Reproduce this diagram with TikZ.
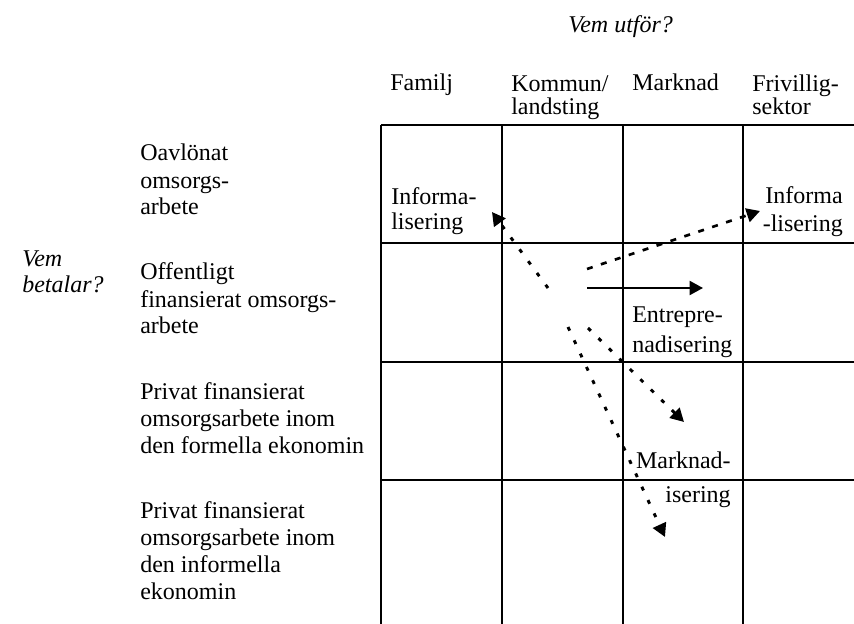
\documentclass[tikz,border=0pt]{standalone}
\usepackage{fontspec}
\setmainfont{Liberation Serif}
\usetikzlibrary{arrows.meta}
\begin{document}
\begin{tikzpicture}[x=0.75pt,y=-0.75pt,
  % multi-line nodes: the base anchor is the baseline of the LAST line
  lbl/.style={anchor=base west,inner sep=0pt,align=left,font=\fontsize{18}{#1}\selectfont},
  lbl/.default=20.25,
  rlbl/.style={anchor=base east,inner sep=0pt,align=right,font=\fontsize{18}{#1}\selectfont},
  rlbl/.default=20.25,
  gridline/.style={line width=1.5pt},
  tipstyle/.style={-{Triangle[length=10pt,width=10.5pt]}},
  dotarrow/.style={tipstyle,line width=2.2pt,dash pattern=on 3pt off 8pt},
  dasharrow/.style={tipstyle,line width=2pt,dash pattern=on 4.5pt off 6.5pt},
  solidarrow/.style={tipstyle,line width=1.5pt}
]
\useasboundingbox (0,0) rectangle (854,624);
\begin{scope}
\clip (0,0) rectangle (854,624);
% grid
\foreach \yy in {125,243,362,480} \draw[gridline] (381,\yy) -- (860,\yy);
\foreach \xx in {381,502,623,743} \draw[gridline] (\xx,125) -- (\xx,630);
\end{scope}

% titles
\node[lbl] (vemutfor) at (568,33) {\itshape Vem utför?};
\node[lbl=20.25] (vembetalar) at (22,293) {\itshape Vem\\\itshape betalar?};

% column headers
\node[lbl] (familj) at (390,91) {Familj};
\node[lbl=17.6] (kommun) at (511,114.5) {Kommun/\\landsting};
\node[lbl] (marknad) at (632,91) {Marknad};
\node[lbl=17.6] (frivillig) at (752,114.5) {Frivillig-\\sektor};

% row labels (anchor = baseline of last line)
\node[lbl] (oavlonat) at (140,215) {Oavlönat\\omsorgs-\\arbete};
\node[lbl] (offentligt) at (140,334) {Offentligt\\finansierat omsorgs-\\arbete};
\node[lbl] (privatformell) at (140,453) {Privat finansierat\\omsorgsarbete inom\\den formella ekonomin};
\node[lbl] (privatinformell) at (140,599) {Privat finansierat\\omsorgsarbete inom\\den informella\\ekonomin};

% cell labels
\node[lbl=18.75] (infA) at (391,230) {Informa-\\lisering};
\node[rlbl=21] (infB) at (843,232) {Informa\\-lisering};
\node[lbl=21.75] (entre) at (632,352) {Entrepre-\\nadisering};
\node[rlbl=25.5] (markn) at (731,502) {Marknad-\\isering};

% arrow endpoints
\coordinate (a1s) at (548,288);
\coordinate (a1e) at (492,212);
\coordinate (a2s) at (587,269);
\coordinate (a2e) at (760,211);
\coordinate (a3s) at (587,288);
\coordinate (a3e) at (703,288);
\coordinate (a4s) at (588,328);
\coordinate (a4e) at (684,422);
\coordinate (a5s) at (568,327);
\coordinate (a5e) at (665,537);

\draw[dotarrow] (a1s) -- (a1e);
\draw[dasharrow] (a2s) -- (a2e);
\draw[solidarrow] (a3s) -- (a3e);
\draw[dotarrow] (a4s) -- (a4e);
\draw[dotarrow] (a5s) -- (a5e);
\end{tikzpicture}
\end{document}
